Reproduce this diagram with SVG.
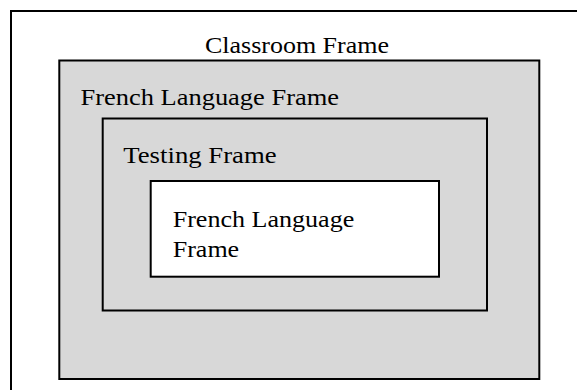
<svg xmlns="http://www.w3.org/2000/svg" width="577" height="390" viewBox="0 0 577 390">
<style>
.frame{stroke:#000;stroke-width:2}
.gray{fill:#d8d8d8}
.white{fill:#fff}
text{font-family:"Liberation Serif","Times New Roman",serif;font-size:23.5px;fill:#000}
</style>
<rect width="577" height="390" fill="#fff"/>
<g id="classroom-frame">
<rect class="frame white" x="11" y="11" width="580" height="400"/>
<text x="205" y="53.3" textLength="184" lengthAdjust="spacingAndGlyphs">Classroom Frame</text>
</g>
<g id="french-language-frame-outer">
<rect class="frame gray" x="59.3" y="60.5" width="480" height="318.5"/>
<text x="80.5" y="105" textLength="258.5" lengthAdjust="spacingAndGlyphs">French Language Frame</text>
</g>
<g id="testing-frame">
<rect class="frame gray" x="102.7" y="118.5" width="384.3" height="192"/>
<text x="123.3" y="163.3" textLength="153.3" lengthAdjust="spacingAndGlyphs">Testing Frame</text>
</g>
<g id="french-language-frame-inner">
<rect class="frame white" x="150.7" y="181" width="288.3" height="95.7"/>
<text x="172.7" y="226.7" textLength="181.6" lengthAdjust="spacingAndGlyphs">French Language</text>
<text x="172.7" y="257.3" textLength="66.5" lengthAdjust="spacingAndGlyphs">Frame</text>
</g>
<g id="connectors"/>
</svg>
